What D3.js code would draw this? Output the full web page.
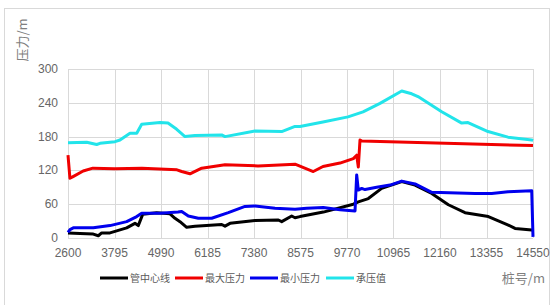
<!DOCTYPE html>
<html>
<head>
<meta charset="utf-8">
<script src="https://cdn.jsdelivr.net/npm/d3@7"></script>
<style>
  body { margin: 0; background: #fff; }
  text { font-family: "Noto Sans CJK SC", "Noto Sans", sans-serif; }
  .tick { font-family: "Liberation Sans", Arial, sans-serif; }
</style>
</head>
<body>
<script>
// x ticks (桩号) and y ticks (压力)
var xTicks = [2600, 3795, 4990, 6185, 7380, 8575, 9770, 10965, 12160, 13355, 14550];
var yTicks = [0, 60, 120, 180, 240, 300];

// series: [桩号, value]
var pipeCenter = [[2600,9],[2908,8],[3250,7],[3379,4],[3465,9],[3679,9],[4108,18],[4321,26],[4406,22],
  [4519,42],[4879,45],[5221,43],[5350,35],[5478,29],[5650,19],[5864,21],[6550,24],[6635,21],[6764,26],
  [7406,31],[8006,32],[8092,29],[8349,39],[8434,36],[8562,38],[9161,46],[9932,60],[10061,64],[10318,70],
  [10661,88],[11176,100],[11518,94],[11947,79],[12375,59],[12803,45],[13403,38],[13916,23],[14088,17],
  [14517,14],[14550,14]];
var maxPressure = [[2600,147],[2650,106],[2730,109],[2990,119],[3240,124],[3800,123],[4500,124],[5100,122],
  [5400,121],[5522,118],[5735,114],[6036,124],[6635,130],[7483,128],[8434,131],[8904,118],[9153,127],
  [9590,133],[9932,141],[10019,147],[10061,126],[10104,174],[10150,172],[14550,164]];
var minPressure = [[2600,10],[2651,15],[2736,18],[3250,18],[3679,22],[4108,29],[4366,38],[4494,44],
  [4964,44],[5427,46],[5522,47],[5692,39],[5949,35],[6293,35],[6720,45],[7149,56],[7406,57],[7920,53],
  [8434,51],[8735,53],[9161,54],[9590,50],[9976,48],[10019,112],[10061,85],[10148,88],[10233,86],
  [10533,90],[10875,94],[11176,101],[11518,96],[11947,81],[13060,79],[13489,79],[13908,82],[14517,84],
  [14550,2]];
var bearing = [[2600,169],[3080,170],[3337,166],[3422,168],[3808,171],[3936,174],[4193,186],[4366,186],
  [4494,202],[4964,205],[5170,204],[5394,193],[5607,180],[5864,182],[6550,183],[6635,180],[7406,190],
  [8092,189],[8434,198],[8562,198],[9153,206],[9796,215],[10182,224],[10618,239],[11176,261],[11433,256],
  [11595,251],[12204,224],[12718,204],[12880,205],[13394,189],[13908,179],[14517,174],[14550,173]];

var seriesNames = ["管中心线", "最大压力", "最小压力", "承压值"];
var seriesData = [pipeCenter, maxPressure, minPressure, bearing];
var colors = ["#000000", "#f00000", "#0000ee", "#22e4ea"];

var w = 550, h = 305;
var svg = d3.select("body").append("svg").attr("width", w).attr("height", h);

// outer frame
svg.append("rect").attr("x", 4.5).attr("y", 8.5).attr("width", 545).attr("height", 310)
  .attr("fill", "none").attr("stroke", "#d9d9d9");

var x = d3.scaleLinear().domain([2600, 14550]).range([68, 533]);
var y = d3.scaleLinear().domain([0, 300]).range([238, 69]);

// grid
svg.append("g").selectAll("line").data(xTicks).enter().append("line")
  .attr("x1", function(d) { return Math.round(x(d)) + 0.5; })
  .attr("x2", function(d) { return Math.round(x(d)) + 0.5; })
  .attr("y1", y(0)).attr("y2", y(300))
  .attr("stroke", "#d9d9d9");
svg.append("g").selectAll("line").data(yTicks).enter().append("line")
  .attr("y1", function(d) { return Math.round(y(d)) + 0.5; })
  .attr("y2", function(d) { return Math.round(y(d)) + 0.5; })
  .attr("x1", x(2600)).attr("x2", x(14550))
  .attr("stroke", "#d9d9d9");

// tick labels
svg.append("g").selectAll("text").data(yTicks).enter().append("text")
  .attr("class", "tick")
  .attr("x", 58).attr("y", function(d) { return y(d) + 4; })
  .attr("text-anchor", "end").attr("font-size", 12).attr("fill", "#666")
  .text(function(d) { return d; });
svg.append("g").selectAll("text").data(xTicks).enter().append("text")
  .attr("class", "tick")
  .attr("x", function(d) { return x(d); }).attr("y", 257)
  .attr("text-anchor", "middle").attr("font-size", 12).attr("fill", "#666")
  .text(function(d) { return d; });

// lines
var line = d3.line()
  .x(function(d) { return x(d[0]); })
  .y(function(d) { return y(d[1]); });

// draw order: cyan, red, black, blue on top
[3, 1, 0, 2].forEach(function(i) {
  svg.append("path").datum(seriesData[i])
    .attr("d", line)
    .attr("fill", "none")
    .attr("stroke", colors[i])
    .attr("stroke-width", 3)
    .attr("stroke-linejoin", "round");
});

// legend
var legendX = [100, 175, 250, 326];
var legend = svg.append("g").selectAll("g").data(seriesNames).enter().append("g")
  .attr("transform", function(d, i) { return "translate(" + legendX[i] + ",278)"; });
legend.append("line").attr("x1", 0).attr("x2", 28).attr("y1", 0).attr("y2", 0)
  .attr("stroke", function(d, i) { return colors[i]; }).attr("stroke-width", 3);
legend.append("text").attr("x", 30).attr("y", 4).attr("font-size", 10).attr("fill", "#595959")
  .text(function(d) { return d; });

// axis titles
svg.append("text").attr("x", 545).attr("y", 283).attr("text-anchor", "end")
  .attr("font-size", 13).attr("fill", "#7f7f7f").text("桩号/m");
svg.append("text").attr("transform", "translate(27,40) rotate(-90)")
  .attr("text-anchor", "middle").attr("font-size", 13).attr("fill", "#7f7f7f").text("压力/m");
</script>
</body>
</html>
